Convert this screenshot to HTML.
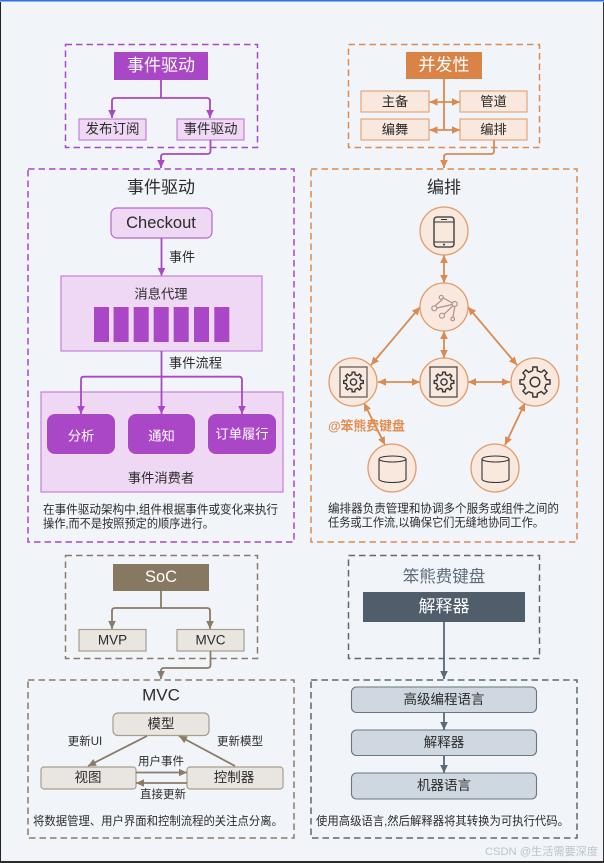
<!DOCTYPE html>
<html><head><meta charset="utf-8"><style>
html,body{margin:0;padding:0;background:#f1f5f9}
svg{display:block;filter:blur(.3px)}
text{font-family:"Liberation Sans","Noto Sans CJK SC",sans-serif;fill:#2b2b2b;dominant-baseline:central}
.m{text-anchor:middle}
text.w{fill:#fff}
.d{font-size:11.7px}
.p{stroke:#a947c6;stroke-width:1.8;fill:none}
.o{stroke:#dc8a50;stroke-width:1.8;fill:none}
.b{stroke:#8a7b66;stroke-width:1.8;fill:none}
.s{stroke:#5b6876;stroke-width:1.8;fill:none}
.dash{stroke-width:1.5;stroke-dasharray:6.5 4}
.c{fill:#f9e8dd;stroke:#e39a68;stroke-width:1.3}
.ic{fill:none;stroke:#333;stroke-width:1.1}
</style></head><body>
<svg width="604" height="863" viewBox="0 0 604 863" xmlns="http://www.w3.org/2000/svg">
<defs>
<marker id="ap" markerUnits="userSpaceOnUse" markerWidth="10" markerHeight="10" refX="8" refY="5" orient="auto-start-reverse"><path d="M0 1.2L8 5L0 8.8z" fill="#a947c6"/></marker>
<marker id="ao" markerUnits="userSpaceOnUse" markerWidth="10" markerHeight="10" refX="8" refY="5" orient="auto-start-reverse"><path d="M0 1.2L8 5L0 8.8z" fill="#dc8a50"/></marker>
<marker id="ab" markerUnits="userSpaceOnUse" markerWidth="10" markerHeight="10" refX="8" refY="5" orient="auto-start-reverse"><path d="M0 1.2L8 5L0 8.8z" fill="#8a7b66"/></marker>
<marker id="as" markerUnits="userSpaceOnUse" markerWidth="10" markerHeight="10" refX="8" refY="5" orient="auto-start-reverse"><path d="M0 1.2L8 5L0 8.8z" fill="#5b6876"/></marker>
<g id="gear">
<path id="tooth" d="M-2.5 -11.7L-2.2 -15.8H2.2L2.5 -11.7A12 12 0 0 1 6.5 -10.1" fill="none" stroke="#333" stroke-width="1.4" vector-effect="non-scaling-stroke"/>
<use href="#tooth" transform="rotate(45)"/><use href="#tooth" transform="rotate(90)"/><use href="#tooth" transform="rotate(135)"/>
<use href="#tooth" transform="rotate(180)"/><use href="#tooth" transform="rotate(225)"/><use href="#tooth" transform="rotate(270)"/><use href="#tooth" transform="rotate(315)"/>
<circle r="5" fill="none" stroke="#333" stroke-width="1.4" vector-effect="non-scaling-stroke"/>
</g>
</defs>

<rect width="604" height="863" fill="#f1f5f9"/>
<rect x="0" y="0" width="604" height="1.5" fill="#2f6fe6"/>
<rect x="0" y="2" width="1" height="861" fill="#222"/>
<rect x="603" y="2" width="1" height="861" fill="#333"/>
<rect x="0" y="861" width="604" height="2" fill="#2c2c2c"/>

<!-- top-left -->
<rect x="65.5" y="44.5" width="192" height="103" class="p dash"/>
<rect x="114" y="52" width="94" height="28" fill="#a947c6"/>
<text x="161" y="65.500" class="m w" font-size="17">事件驱动</text>
<path d="M161 80V98" class="p"/>
<path d="M161 98H115Q112 98 112 101V118" class="p" marker-end="url(#ap)"/>
<path d="M161 98H207Q210 98 210 101V118" class="p" marker-end="url(#ap)"/>
<rect x="79" y="119" width="67" height="21" fill="#eed8f3" stroke="#c77fdb" stroke-width="1.2"/>
<rect x="177" y="119" width="67" height="21" fill="#eed8f3" stroke="#c77fdb" stroke-width="1.2"/>
<text x="112.5" y="129" class="m" font-size="13.5">发布订阅</text>
<text x="210.5" y="129" class="m" font-size="13.5">事件驱动</text>
<path d="M210.5 140V151Q210.5 154 207 154H164Q161 154 161 157V168" class="p" marker-end="url(#ap)"/>

<!-- purple panel -->
<rect x="28" y="169" width="266" height="373" class="p dash"/>
<text x="161" y="187.500" class="m" font-size="17">事件驱动</text>
<rect x="111" y="208" width="101" height="30" rx="6" fill="#eed8f3" stroke="#b864d2" stroke-width="1.2"/>
<text x="161" y="223" class="m" font-size="16.500">Checkout</text>
<path d="M161.5 238V276" class="p" marker-end="url(#ap)"/>
<text x="182" y="257" class="m" font-size="13">事件</text>
<rect x="61" y="276" width="201" height="75" fill="#eed8f3" stroke="#c77fdb" stroke-width="1.2"/>
<text x="161" y="294" class="m" font-size="13.300">消息代理</text>
<g fill="#a947c6">
<rect x="94" y="307" width="15" height="35"/><rect x="113.6" y="307" width="15" height="35"/><rect x="133.7" y="307" width="15" height="35"/><rect x="153.7" y="307" width="15" height="35"/><rect x="173.7" y="307" width="15" height="35"/><rect x="194" y="307" width="15" height="35"/><rect x="214.3" y="307" width="15" height="35"/>
</g>
<text x="195.5" y="363" class="m" font-size="13.300">事件流程</text>
<rect x="41" y="392" width="242" height="100" fill="#eed8f3" stroke="#c77fdb" stroke-width="1.2"/>
<path d="M161.5 351V414" class="p" marker-end="url(#ap)"/>
<path d="M161.5 376.7H84Q81 376.7 81 380V414" class="p" marker-end="url(#ap)"/>
<path d="M161.5 376.7H239Q242 376.7 242 380V414" class="p" marker-end="url(#ap)"/>
<rect x="47" y="414" width="68" height="40" rx="8" fill="#a947c6"/>
<rect x="128" y="414" width="67" height="40" rx="8" fill="#a947c6"/>
<rect x="208" y="414" width="68" height="40" rx="8" fill="#a947c6"/>
<text x="81" y="436" class="m w" font-size="13.300">分析</text>
<text x="161.5" y="436" class="m w" font-size="13.300">通知</text>
<text x="242" y="434" class="m w" font-size="13.300">订单履行</text>
<text x="161" y="478" class="m" font-size="13.300">事件消费者</text>
<text x="43" y="510" class="d" textLength="235" lengthAdjust="spacingAndGlyphs">在事件驱动架构中,组件根据事件或变化来执行</text>
<text x="43" y="524" class="d" textLength="171" lengthAdjust="spacingAndGlyphs">操作,而不是按照预定的顺序进行。</text>

<!-- top-right -->
<rect x="348.5" y="44.5" width="191" height="103" class="o dash"/>
<rect x="406" y="52" width="76" height="27" fill="#d98347"/>
<text x="444" y="65" class="m w" font-size="17">并发性</text>
<path d="M444 79V130" class="o"/>
<g fill="#f9e8dd" stroke="#e6a577" stroke-width="1.2">
<rect x="361" y="91" width="68" height="21"/><rect x="460" y="91" width="67" height="21"/>
<rect x="361" y="119" width="68" height="21"/><rect x="460" y="119" width="67" height="21"/>
</g>
<path d="M429.500 102H460" class="o" marker-start="url(#ao)" marker-end="url(#ao)"/>
<path d="M429.500 130H460" class="o" marker-start="url(#ao)" marker-end="url(#ao)"/>
<text x="395" y="101.5" class="m" font-size="13.300">主备</text>
<text x="493.5" y="101.5" class="m" font-size="13.300">管道</text>
<text x="395" y="129.5" class="m" font-size="13.300">编舞</text>
<text x="493.5" y="129.5" class="m" font-size="13.300">编排</text>
<path d="M494 140V151Q494 154 491 154H447Q444 154 444 157V168" class="o" marker-end="url(#ao)"/>

<!-- orange panel -->
<rect x="311" y="169" width="266" height="373" class="o dash"/>
<text x="444" y="187.500" class="m" font-size="17">编排</text>
<path d="M444 255V283" class="o" marker-start="url(#ao)" marker-end="url(#ao)"/>
<path d="M420 307L371 365" class="o" marker-start="url(#ao)" marker-end="url(#ao)"/>
<path d="M468 307L517 365" class="o" marker-start="url(#ao)" marker-end="url(#ao)"/>
<path d="M444 331V358" class="o" marker-start="url(#ao)" marker-end="url(#ao)"/>
<path d="M378 382H420" class="o" marker-start="url(#ao)" marker-end="url(#ao)"/>
<path d="M468 382H510" class="o" marker-start="url(#ao)" marker-end="url(#ao)"/>
<path d="M364 403L385 445" class="o" marker-start="url(#ao)" marker-end="url(#ao)"/>
<path d="M525 403L505 445" class="o" marker-start="url(#ao)" marker-end="url(#ao)"/>
<circle cx="444" cy="231" r="24" class="c"/>
<circle cx="444" cy="307" r="24" class="c"/>
<circle cx="353" cy="382" r="24" class="c"/>
<circle cx="444" cy="382" r="24" class="c"/>
<circle cx="535" cy="382" r="24" class="c"/>
<circle cx="392" cy="468" r="24" class="c"/>
<circle cx="495" cy="468" r="24" class="c"/>
<!-- phone -->
<rect x="434" y="217" width="20" height="30" rx="3" class="ic" style="stroke-width:1.3"/>
<path d="M434 222H454M434 242H454M441 219.500H447" class="ic"/>
<circle cx="444" cy="244.500" r="1" fill="#333"/>
<!-- network -->
<g fill="none" stroke="#b58f8c" stroke-width="1.2">
<path d="M436.800 308L452.300 304.500M442.500 299.500L434.800 306M443.300 298L452.500 303M444 314.300L453 305.800M453 316.800L454.800 306.500"/>
<circle cx="434.300" cy="308.300" r="2.500"/><circle cx="441.300" cy="297.300" r="2"/><circle cx="454.700" cy="304" r="2.500"/><circle cx="442" cy="315.700" r="2.500"/><circle cx="452.700" cy="319" r="1.800"/>
</g>
<!-- gears -->
<rect x="340" y="367" width="27" height="30" fill="none" stroke="#4a4a4a" stroke-width="1.100"/>
<rect x="430" y="367" width="27" height="30" fill="none" stroke="#333" stroke-width="1.100"/>
<use href="#gear" transform="translate(353.500 382) scale(.62)"/>
<use href="#gear" transform="translate(444 382) scale(.62)"/>
<use href="#gear" transform="translate(535 382) scale(.95)"/>
<!-- db -->
<path d="M379 459V479C379 481 385 482.500 392.500 482.500S406 481 406 479V459" class="ic"/>
<ellipse cx="392.500" cy="459" rx="13.500" ry="3" class="ic"/>
<path d="M482 459V479C482 481 488 482.500 495.500 482.500S509 481 509 479V459" class="ic"/>
<ellipse cx="495.500" cy="459" rx="13.500" ry="3" class="ic"/>
<text x="328" y="426" font-size="13" style="fill:#e28d4f;font-weight:bold" textLength="77">@笨熊费键盘</text>
<text x="328" y="509" class="d" textLength="231" lengthAdjust="spacingAndGlyphs">编排器负责管理和协调多个服务或组件之间的</text>
<text x="328" y="523" class="d" textLength="216" lengthAdjust="spacingAndGlyphs">任务或工作流,以确保它们无缝地协同工作。</text>

<!-- bottom-left -->
<rect x="65.500" y="555.500" width="192" height="103" class="b dash"/>
<rect x="113" y="564" width="96" height="27" fill="#877862"/>
<text x="161" y="577" class="m w" font-size="16.500">SoC</text>
<path d="M161 591V608" class="b"/>
<path d="M161 608H115Q112 608 112 611V629" class="b" marker-end="url(#ab)"/>
<path d="M161 608H207Q210 608 210 611V629" class="b" marker-end="url(#ab)"/>
<rect x="79" y="629.500" width="67" height="21.500" fill="#e9e6e1" stroke="#a89c8b" stroke-width="1.200"/>
<rect x="177" y="629.500" width="67" height="21.500" fill="#e9e6e1" stroke="#a89c8b" stroke-width="1.200"/>
<text x="112.500" y="640" class="m" font-size="13.500">MVP</text>
<text x="210.500" y="640" class="m" font-size="13.500">MVC</text>
<path d="M210.500 651V665Q210.500 668 207 668H164Q161 668 161 671V679" class="b" marker-end="url(#ab)"/>
<rect x="28" y="680" width="266" height="158" class="b dash"/>
<text x="161" y="695" class="m" font-size="17">MVC</text>
<rect x="113" y="713" width="96" height="22.500" rx="5" fill="#e9e6e1" stroke="#a89c8b" stroke-width="1.200"/>
<rect x="41" y="767" width="95" height="22" rx="3" fill="#e9e6e1" stroke="#a89c8b" stroke-width="1.200"/>
<rect x="187" y="767" width="96" height="22" rx="3" fill="#e9e6e1" stroke="#a89c8b" stroke-width="1.200"/>
<text x="161" y="724" class="m" font-size="13.500">模型</text>
<text x="88" y="777.500" class="m" font-size="13.500">视图</text>
<text x="234" y="777.500" class="m" font-size="13.500">控制器</text>
<path d="M147 736L88 766" class="b" marker-end="url(#ab)"/>
<path d="M235 766L179 736" class="b" marker-end="url(#ab)"/>
<path d="M136 772.500H187" class="b" marker-end="url(#ab)"/>
<path d="M187 783H136" class="b" marker-end="url(#ab)"/>
<text x="85" y="742" class="m" font-size="11.500">更新UI</text>
<text x="240" y="742" class="m" font-size="11.500">更新模型</text>
<text x="161" y="762" class="m" font-size="11.500">用户事件</text>
<text x="163" y="795" class="m" font-size="11.500">直接更新</text>
<text x="33" y="821.500" class="d" textLength="250" lengthAdjust="spacingAndGlyphs">将数据管理、用户界面和控制流程的关注点分离。</text>

<!-- bottom-right -->
<rect x="348.500" y="555.500" width="191" height="103" class="s dash"/>
<text x="444" y="577" class="m" font-size="16.500" style="fill:#5d6a78">笨熊费键盘</text>
<rect x="363" y="592" width="162" height="30" fill="#505d6b"/>
<text x="444" y="606.500" class="m w" font-size="17">解释器</text>
<path d="M444 622V679" class="s" marker-end="url(#as)"/>
<rect x="311" y="680" width="266" height="158" class="s dash"/>
<g fill="#cfd8e0" stroke="#69757f" stroke-width="1.100">
<rect x="351.500" y="687" width="185" height="25.500" rx="5"/>
<rect x="351.500" y="730" width="185" height="25.500" rx="5"/>
<rect x="351.500" y="773" width="185" height="26" rx="5"/>
</g>
<path d="M444 712.500V730" class="s" marker-end="url(#as)"/>
<path d="M444 755.500V773" class="s" marker-end="url(#as)"/>
<text x="444" y="699.500" class="m" font-size="13.500">高级编程语言</text>
<text x="444" y="742.500" class="m" font-size="13.500">解释器</text>
<text x="444" y="785.500" class="m" font-size="13.500">机器语言</text>
<text x="316" y="821.500" class="d" textLength="253" lengthAdjust="spacingAndGlyphs">使用高级语言,然后解释器将其转换为可执行代码。</text>
<text x="485" y="852" font-size="11" style="fill:#bcc3ca" textLength="113" lengthAdjust="spacingAndGlyphs">CSDN @生活需要深度</text>
</svg>
</body></html>
